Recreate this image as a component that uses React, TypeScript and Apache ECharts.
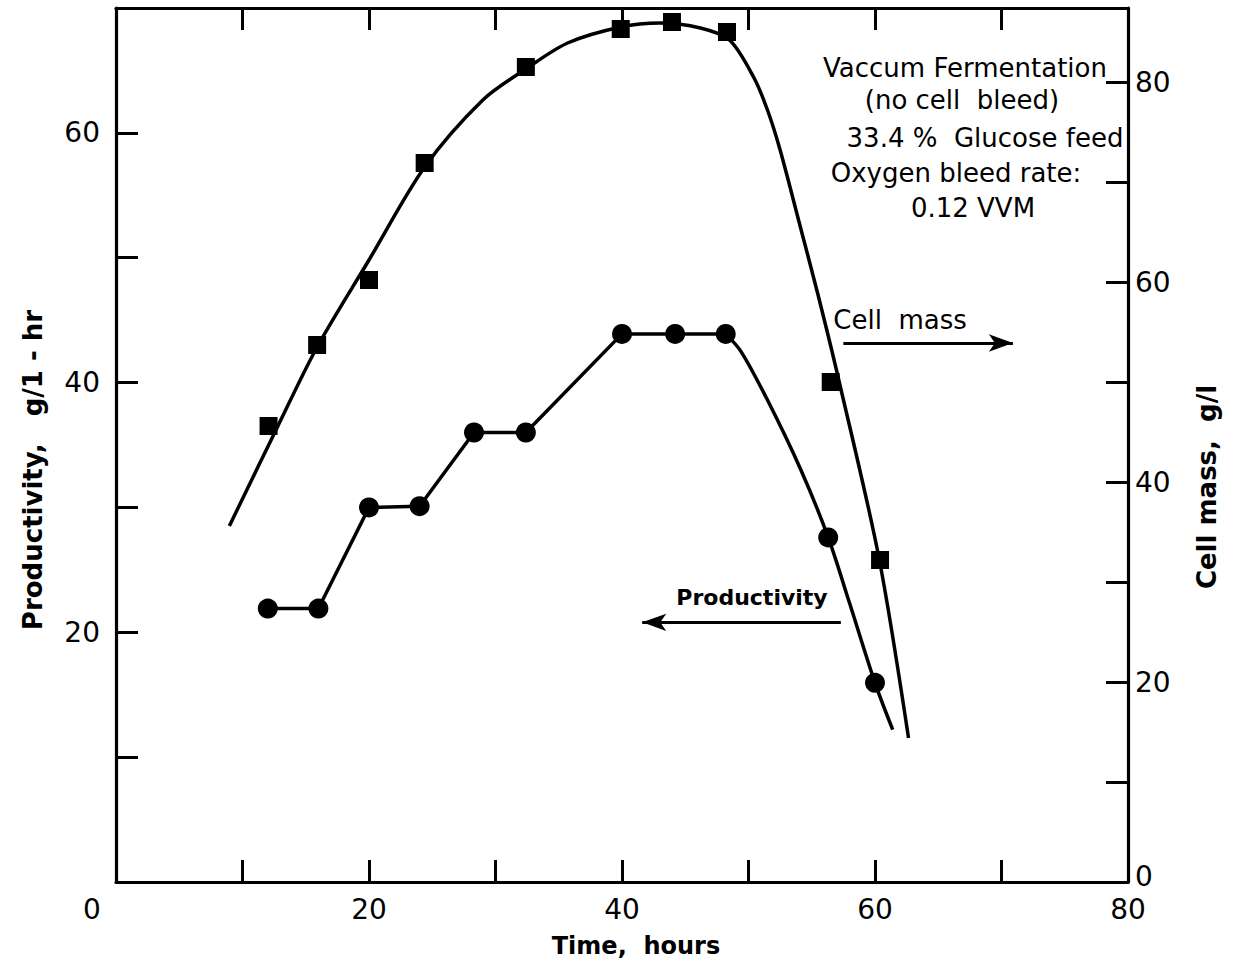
import React, { useEffect, useRef } from "react";
import * as echarts from "echarts";

// ---- axis ticks / labels ----
const xLabelValues = [0, 20, 40, 60, 80];
const leftLabelValues = [20, 40, 60];
const rightLabelValues = [0, 20, 40, 60, 80];

// ---- Productivity (left axis, g/1-hr), measured points ----
const prodTimes = [12, 16, 20, 24, 28.3, 32.4, 40, 44.2, 48.2, 56.3, 60];
const prodValues = [21.9, 21.9, 30.0, 30.1, 36.0, 36.0, 43.9, 43.9, 43.9, 27.6, 15.95];
// straight-segment part of the productivity line (first 9 points)
const prodStraightCount = 9;
// curved tail of the productivity line
const prodTailTimes = [48.2, 49.4, 51.5, 54.1, 56.3, 58, 60, 61.4];
const prodTailValues = [43.9, 42.5, 38.6, 33.1, 27.6, 22.3, 15.95, 12.2];

// ---- Cell mass (right axis, g/l), measured points ----
const cellTimes = [12.06, 15.9, 20, 24.4, 32.4, 39.9, 43.95, 48.3, 56.5, 60.4];
const cellValues = [45.6, 53.7, 60.2, 71.9, 81.5, 85.3, 86.0, 85.0, 50.0, 32.2];
// fitted smooth curve through cell mass
const cellCurveTimes = [8.96, 12.8, 15.9, 20, 24.4, 29, 32.4, 35.7, 39.9, 43, 46.2, 48.5, 50.4, 51.5, 52.5, 54.1, 55.5, 57.1, 60.3, 62.65];
const cellCurveValues = [35.6, 45.6, 53.5, 62.2, 71.5, 78.2, 81.3, 83.9, 85.5, 85.9, 85.4, 84.2, 80.5, 77.2, 73.2, 65.5, 58.7, 50.4, 32.5, 14.4];

// ---- annotation arrows (data coordinates) ----
const cellArrowTimes = [57.5, 70.9];
const cellArrowLevel = 53.9;
const prodArrowTimes = [57.3, 41.6];
const prodArrowLevel = 20.8;

const FONT = "DejaVu Sans";

export default function App() {
  const ref = useRef<HTMLDivElement>(null);

  useEffect(() => {
    if (!ref.current) return;
    const chart = echarts.init(ref.current, null, { renderer: "svg" });

    const zip = (xs: number[], ys: number[]) => xs.map((x, i) => [x, ys[i]]);

    const axisLine = { show: true, onZero: false, lineStyle: { color: "#000", width: 3.2 } };
    const tickStyle = { show: true, inside: true, length: 22, lineStyle: { color: "#000", width: 3 } };

    const annText = (text: string, x: number, y: number, size: number, weight: string = "normal") => ({
      type: "text",
      x,
      y,
      silent: true,
      style: {
        text,
        fill: "#000",
        fontSize: size,
        fontFamily: FONT,
        fontWeight: weight,
        align: "center",
        verticalAlign: "middle",
        textAlign: "center",
        textVerticalAlign: "middle",
      },
    });

    const option: any = {
      animation: false,
      backgroundColor: "#fff",
      grid: { left: 116, right: 105, top: 8, bottom: 84, containLabel: false },
      xAxis: [
        {
          type: "value",
          min: 0,
          max: 80,
          interval: 10,
          position: "bottom",
          axisLine,
          axisTick: tickStyle,
          splitLine: { show: false },
          axisLabel: {
            margin: 14,
            color: "#000",
            fontSize: 28,
            lineHeight: 26,
            fontFamily: FONT,
            formatter: (v: number) =>
              v === 0 ? "{z|0}" : xLabelValues.indexOf(v) >= 0 ? String(v) : "",
            rich: { z: { padding: [0, 48, 0, 0], fontSize: 28, lineHeight: 26, fontFamily: FONT, color: "#000" } },
          },
          name: "Time,  hours",
          nameLocation: "middle",
          nameGap: 52,
          nameTextStyle: {
            color: "#000",
            fontSize: 24,
            fontWeight: "bold",
            fontFamily: FONT,
            padding: [0, 0, 0, 28],
          },
        },
        {
          type: "value",
          min: 0,
          max: 80,
          interval: 10,
          position: "top",
          axisLine,
          axisTick: tickStyle,
          splitLine: { show: false },
          axisLabel: { show: false },
        },
      ],
      yAxis: [
        {
          type: "value",
          min: 0,
          max: 70,
          interval: 10,
          position: "left",
          axisLine,
          axisTick: tickStyle,
          splitLine: { show: false },
          axisLabel: {
            margin: 16,
            color: "#000",
            fontSize: 28,
            lineHeight: 28,
            fontFamily: FONT,
            formatter: (v: number) => (leftLabelValues.indexOf(v) >= 0 ? String(v) : ""),
          },
          name: "Productivity,   g/1 - hr",
          nameLocation: "middle",
          nameRotate: 90,
          nameGap: 70,
          nameTextStyle: {
            color: "#000",
            fontSize: 26,
            fontWeight: "bold",
            fontFamily: FONT,
            padding: [0, 50, 0, 0],
          },
        },
        {
          type: "value",
          min: 0,
          max: 87.4,
          interval: 10,
          position: "right",
          axisLine,
          axisTick: tickStyle,
          splitLine: { show: false },
          axisLabel: {
            margin: 7,
            color: "#000",
            fontSize: 28,
            lineHeight: 20,
            fontFamily: FONT,
            formatter: (v: number) =>
              v === 0 ? "{z|0}" : rightLabelValues.indexOf(v) >= 0 ? String(v) : "",
            rich: { z: { padding: [0, 0, 12, 0], fontSize: 28, lineHeight: 20, fontFamily: FONT, color: "#000" } },
          },
          name: "Cell mass,  g/l",
          nameLocation: "middle",
          nameRotate: 90,
          nameGap: 66,
          nameTextStyle: {
            color: "#000",
            fontSize: 26,
            fontWeight: "bold",
            fontFamily: FONT,
            padding: [0, 84, 0, 0],
          },
        },
      ],
      series: [
        {
          name: "Cell mass curve",
          type: "line",
          yAxisIndex: 1,
          data: zip(cellCurveTimes, cellCurveValues),
          smooth: 0.3,
          showSymbol: false,
          symbol: "none",
          lineStyle: { color: "#000", width: 3.5 },
          silent: true,
          z: 2,
        },
        {
          name: "Cell mass",
          type: "scatter",
          yAxisIndex: 1,
          data: zip(cellTimes, cellValues),
          symbol: "rect",
          symbolSize: 18,
          itemStyle: { color: "#000", opacity: 1 },
          silent: true,
          z: 3,
          markLine: {
            silent: true,
            symbol: ["none", "arrow"],
            symbolSize: [13, 24],
            label: { show: false },
            lineStyle: { color: "#000", width: 3, type: "solid" },
            data: [
              [
                { coord: [cellArrowTimes[0], cellArrowLevel] },
                { coord: [cellArrowTimes[1], cellArrowLevel] },
              ],
            ],
          },
        },
        {
          name: "Productivity line",
          type: "line",
          yAxisIndex: 0,
          data: zip(prodTimes.slice(0, prodStraightCount), prodValues.slice(0, prodStraightCount)),
          showSymbol: false,
          symbol: "none",
          lineStyle: { color: "#000", width: 3.5 },
          silent: true,
          z: 2,
        },
        {
          name: "Productivity tail",
          type: "line",
          yAxisIndex: 0,
          data: zip(prodTailTimes, prodTailValues),
          smooth: 0.3,
          showSymbol: false,
          symbol: "none",
          lineStyle: { color: "#000", width: 3.5 },
          silent: true,
          z: 2,
        },
        {
          name: "Productivity",
          type: "scatter",
          yAxisIndex: 0,
          data: zip(prodTimes, prodValues),
          symbol: "circle",
          symbolSize: 20,
          itemStyle: { color: "#000", opacity: 1 },
          silent: true,
          z: 3,
          markLine: {
            silent: true,
            symbol: ["none", "arrow"],
            symbolSize: [13, 24],
            label: { show: false },
            lineStyle: { color: "#000", width: 3, type: "solid" },
            data: [
              [
                { coord: [prodArrowTimes[0], prodArrowLevel] },
                { coord: [prodArrowTimes[1], prodArrowLevel] },
              ],
            ],
          },
        },
      ],
      graphic: [
        annText("Vaccum Fermentation", 965, 68, 26),
        annText("(no cell  bleed)", 962, 100, 26),
        annText("33.4 %  Glucose feed", 985, 138, 26),
        annText("Oxygen bleed rate:", 956, 173, 26),
        annText("0.12 VVM", 973, 208, 26),
        annText("Cell  mass", 900, 320, 26),
        annText("Productivity", 752, 597, 22, "bold"),
      ],
    };

    chart.setOption(option);
    return () => chart.dispose();
  }, []);

  return (
    <div
      ref={ref}
      style={{ position: "absolute", left: 0, top: 0, width: 1233, height: 966, background: "#fff" }}
    />
  );
}
